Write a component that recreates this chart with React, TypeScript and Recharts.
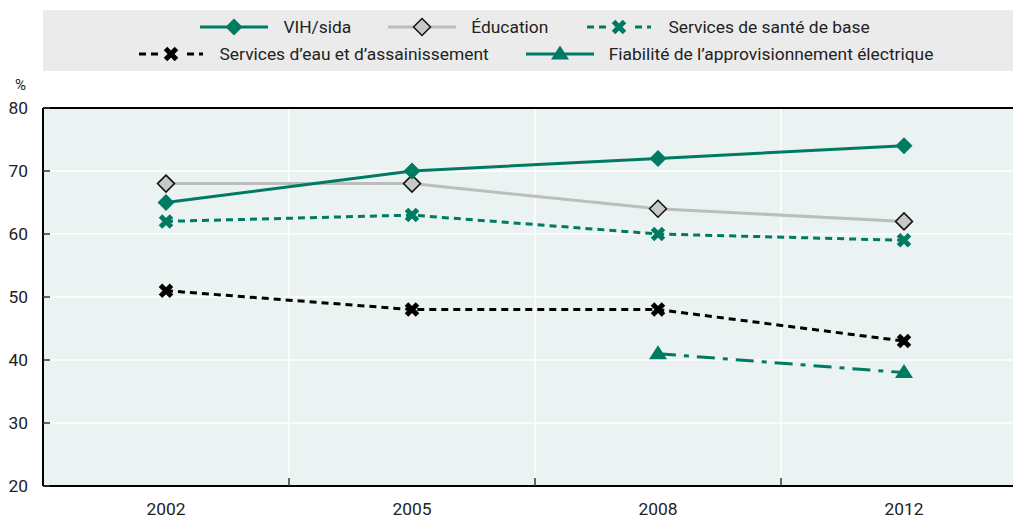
import React from 'react';
import { LineChart, Line, XAxis, YAxis, CartesianGrid, ReferenceLine } from 'recharts';

// values
const years = ['2002', '2005', '2008', '2012'];
const vihSida = [65, 70, 72, 74];
const education = [68, 68, 64, 62];
const santeBase = [62, 63, 60, 59];
const eauAssainissement = [51, 48, 48, 43];
const electricite = [null, null, 41, 38];
const yTicks = [20, 30, 40, 50, 60, 70, 80];

const TEAL = '#007a62';
const GREY = '#bdbdbd';
const FONT = 'Roboto, "Liberation Sans", Arial, sans-serif';
const FS = 17.4;

// each year sits in the middle of its band, band edges get the white grid lines
const data = years.map((year, i) => ({
  pos: i + 0.5,
  year,
  vih: vihSida[i],
  edu: education[i],
  sante: santeBase[i],
  eau: eauAssainissement[i],
  elec: electricite[i],
}));
const xTicks = [0.5, 1, 1.5, 2, 2.5, 3, 3.5];
const bandEdges = [1, 2, 3];

const Diamond = ({ cx, cy, fill, stroke }: any) => (
  <polygon
    points={`${cx},${cy - 8.5} ${cx + 8.5},${cy} ${cx},${cy + 8.5} ${cx - 8.5},${cy}`}
    fill={fill}
    stroke={stroke || 'none'}
    strokeWidth={1.5}
  />
);

const Cross = ({ cx, cy, color }: any) => (
  <path
    d={`M${cx - 5.5},${cy - 5.5}L${cx + 5.5},${cy + 5.5}M${cx - 5.5},${cy + 5.5}L${cx + 5.5},${cy - 5.5}`}
    stroke={color}
    strokeWidth={5}
    fill="none"
  />
);

const Triangle = ({ cx, cy, color }: any) => (
  <polygon points={`${cx},${cy - 8.5} ${cx + 9},${cy + 5.5} ${cx - 9},${cy + 5.5}`} fill={color} />
);

const dotOrNothing = (render: (p: any) => React.ReactElement) => (p: any) => {
  if (p.value == null || p.cy == null) return <g key={`n${p.index}`} />;
  return <g key={`d${p.index}`}>{render(p)}</g>;
};

const XTick = (props: any) => {
  const { x, y, payload } = props;
  const v = payload.value;
  if (Number.isInteger(v)) {
    return <line x1={x} x2={x} y1={y} y2={y - 8} stroke="#333" strokeWidth={1.5} />;
  }
  return (
    <text x={x} y={y} dy={29} textAnchor="middle" fill="#222" fontSize={FS} fontFamily={FONT}>
      {years[Math.floor(v)]}
    </text>
  );
};

const legendRows = [
  [
    { label: 'VIH/sida', kind: 'vih' },
    { label: 'Éducation', kind: 'edu' },
    { label: 'Services de santé de base', kind: 'sante' },
  ],
  [
    { label: 'Services d’eau et d’assainissement', kind: 'eau' },
    { label: 'Fiabilité de l’approvisionnement électrique', kind: 'elec' },
  ],
];

const LegendIcon = ({ kind }: { kind: string }) => {
  const w = 68;
  const c = w / 2;
  let line: React.ReactNode = null;
  let mark: React.ReactNode = null;
  if (kind === 'vih') {
    line = <line x1={0} x2={w} y1={10} y2={10} stroke={TEAL} strokeWidth={3} />;
    mark = <Diamond cx={c} cy={10} fill={TEAL} />;
  } else if (kind === 'edu') {
    line = <line x1={0} x2={w} y1={10} y2={10} stroke={GREY} strokeWidth={3} />;
    mark = <Diamond cx={c} cy={10} fill="#c8c8c8" stroke="#111" />;
  } else if (kind === 'sante' || kind === 'eau') {
    const col = kind === 'sante' ? TEAL : '#000';
    line = <line x1={2} x2={w - 2} y1={10} y2={10} stroke={col} strokeWidth={3} strokeDasharray="7 5" />;
    mark = <Cross cx={c} cy={10} color={col} />;
  } else {
    line = <line x1={0} x2={w} y1={10} y2={10} stroke={TEAL} strokeWidth={3} />;
    mark = <Triangle cx={c} cy={10} color={TEAL} />;
  }
  return (
    <svg width={w} height={20} style={{ display: 'block', marginRight: 15 }}>
      {line}
      <rect x={c - 11} y={0} width={22} height={20} fill="#ebebeb" opacity={kind === 'sante' || kind === 'eau' ? 1 : 0} />
      {mark}
    </svg>
  );
};

export default function App() {
  return (
    <div
      style={{
        position: 'absolute',
        left: 0,
        top: 0,
        width: 1013,
        height: 518,
        overflow: 'hidden',
        background: '#fff',
        fontFamily: FONT,
      }}
    >
      <div
        style={{
          position: 'absolute',
          left: 43,
          top: 10,
          width: 984,
          height: 61,
          background: '#ebebeb',
          paddingTop: 3,
          boxSizing: 'border-box',
        }}
      >
        {legendRows.map((row, ri) => (
          <div
            key={ri}
            style={{ display: 'flex', justifyContent: 'center', alignItems: 'center', height: 27, gap: 37 }}
          >
            {row.map((it) => (
              <div key={it.kind} style={{ display: 'flex', alignItems: 'center' }}>
                <LegendIcon kind={it.kind} />
                <span style={{ fontSize: FS, color: '#222', whiteSpace: 'nowrap' }}>{it.label}</span>
              </div>
            ))}
          </div>
        ))}
      </div>
      <span style={{ position: 'absolute', left: 15, top: 76, fontSize: 15, color: '#222' }}>%</span>
      <LineChart width={1030} height={518} data={data} margin={{ top: 108, right: 3, bottom: 0, left: 0 }}>
        <CartesianGrid
          fill="#eaf3f2"
          stroke="#fff"
          strokeWidth={1.5}
          horizontalValues={yTicks}
          verticalValues={bandEdges}
        />
        <XAxis
          dataKey="pos"
          type="number"
          domain={[0, 4]}
          ticks={xTicks}
          interval={0}
          allowDataOverflow
          height={32}
          tickLine={false}
          tickSize={0}
          tickMargin={0}
          tick={<XTick />}
          axisLine={{ stroke: '#000', strokeWidth: 2 }}
        />
        <YAxis
          type="number"
          domain={[20, 80]}
          ticks={yTicks}
          interval={0}
          width={43}
          tickSize={-7}
          tickMargin={22}
          tick={{ fontSize: FS, fill: '#222', fontFamily: FONT }}
          tickLine={{ stroke: '#333', strokeWidth: 1.5 }}
          axisLine={{ stroke: '#000', strokeWidth: 2 }}
        />
        <ReferenceLine y={80} stroke="#000" strokeWidth={2} />
        <Line
          dataKey="elec"
          stroke={TEAL}
          strokeWidth={3}
          strokeDasharray="18 8 5 8"
          isAnimationActive={false}
          dot={dotOrNothing((p) => <Triangle cx={p.cx} cy={p.cy} color={TEAL} />)}
          activeDot={false}
        />
        <Line
          dataKey="eau"
          stroke="#000"
          strokeWidth={3}
          strokeDasharray="7 5"
          isAnimationActive={false}
          dot={dotOrNothing((p) => <Cross cx={p.cx} cy={p.cy} color="#000" />)}
          activeDot={false}
        />
        <Line
          dataKey="sante"
          stroke={TEAL}
          strokeWidth={3}
          strokeDasharray="7 5"
          isAnimationActive={false}
          dot={dotOrNothing((p) => <Cross cx={p.cx} cy={p.cy} color={TEAL} />)}
          activeDot={false}
        />
        <Line
          dataKey="edu"
          stroke={GREY}
          strokeWidth={3}
          isAnimationActive={false}
          dot={dotOrNothing((p) => <Diamond cx={p.cx} cy={p.cy} fill="#c8c8c8" stroke="#111" />)}
          activeDot={false}
        />
        <Line
          dataKey="vih"
          stroke={TEAL}
          strokeWidth={3}
          isAnimationActive={false}
          dot={dotOrNothing((p) => <Diamond cx={p.cx} cy={p.cy} fill={TEAL} />)}
          activeDot={false}
        />
      </LineChart>
    </div>
  );
}
